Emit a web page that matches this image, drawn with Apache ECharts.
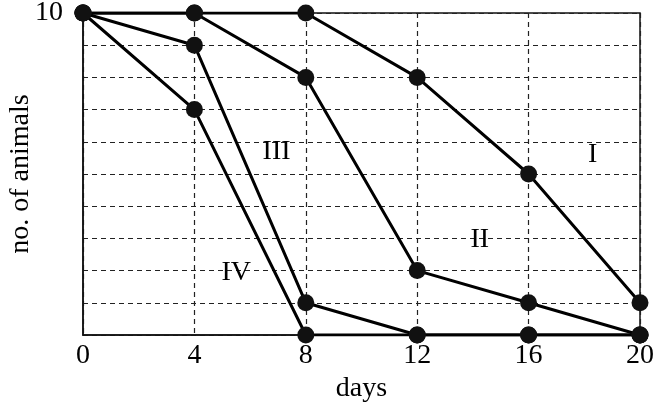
<!DOCTYPE html>
<html><head><meta charset="utf-8">
<script src="https://cdn.jsdelivr.net/npm/echarts@6/dist/echarts.min.js"></script>
<style>html,body{margin:0;padding:0;background:#fff}#c{width:658px;height:411px}</style>
</head><body><div id="c"></div>
<script>
var days = [0, 4, 8, 12, 16, 20];
var seriesI   = [10, 10, 10, 8, 5, 1];
var seriesII  = [10, 10, 8, 2, 1, 0];
var seriesIII = [10, 9, 1, 0, 0, 0];
var seriesIV  = [10, 7, 0, 0, 0, 0];
var seriesNames = ['I', 'II', 'III', 'IV'];
var labelPos = [[18.3, 5.6], [14.25, 2.95], [6.95, 5.7], [5.5, 1.95]];
var yTickLabels = ['10'];

var font = 'Liberation Serif';
function mk(name, vals) {
  return {
    name: name, type: 'line', data: days.map(function (d, i) { return [d, vals[i]]; }),
    symbol: 'circle', symbolSize: 17,
    lineStyle: { color: '#000', width: 3 },
    itemStyle: { color: '#111' }, z: 5
  };
}
var series = [mk('I', seriesI), mk('II', seriesII), mk('III', seriesIII), mk('IV', seriesIV)];
series.push({
  type: 'scatter', symbol: 'circle', symbolSize: 1, silent: true, z: 10,
  itemStyle: { color: 'rgba(255,255,255,0)', opacity: 1 },
  data: labelPos.map(function (p, i) { return { value: p, name: seriesNames[i] }; }),
  label: { show: true, position: 'inside', formatter: '{b}', color: '#000', opacity: 1, textBorderWidth: 0, fontFamily: font, fontSize: 28 }
});
var chart = echarts.init(document.getElementById('c'));
chart.setOption({
  animation: false,
  grid: { left: 83, right: 18, top: 13, bottom: 76, outerBoundsMode: 'none', show: true, borderColor: '#111', borderWidth: 1.5, backgroundColor: 'transparent' },
  xAxis: {
    type: 'value', min: 0, max: 20, interval: 4,
    name: 'days', nameLocation: 'middle', nameGap: 40, nameMoveOverlap: false,
    nameTextStyle: { color: '#000', fontFamily: font, fontSize: 28, verticalAlign: 'top' },
    axisLine: { show: true, lineStyle: { color: '#111', width: 1.5 } },
    axisTick: { show: false },
    axisLabel: { color: '#000', fontFamily: font, fontSize: 28, margin: 7 },
    splitLine: { show: true, lineStyle: { color: '#222', type: [5, 4], width: 1.2 } }
  },
  yAxis: {
    type: 'value', min: 0, max: 10, interval: 1,
    name: 'no. of animals', nameLocation: 'middle', nameGap: 48, nameRotate: 90, nameMoveOverlap: false,
    nameTextStyle: { color: '#000', fontFamily: font, fontSize: 28 },
    axisLine: { show: true, lineStyle: { color: '#111', width: 1.5 } },
    axisTick: { show: false },
    axisLabel: { color: '#000', fontFamily: font, fontSize: 28, margin: 20,
      formatter: function (v) { return yTickLabels.indexOf(String(v)) >= 0 ? String(v) : ''; } },
    splitLine: { show: true, lineStyle: { color: '#222', type: [5, 4], width: 1.2 } }
  },
  series: series
});
</script></body></html>
